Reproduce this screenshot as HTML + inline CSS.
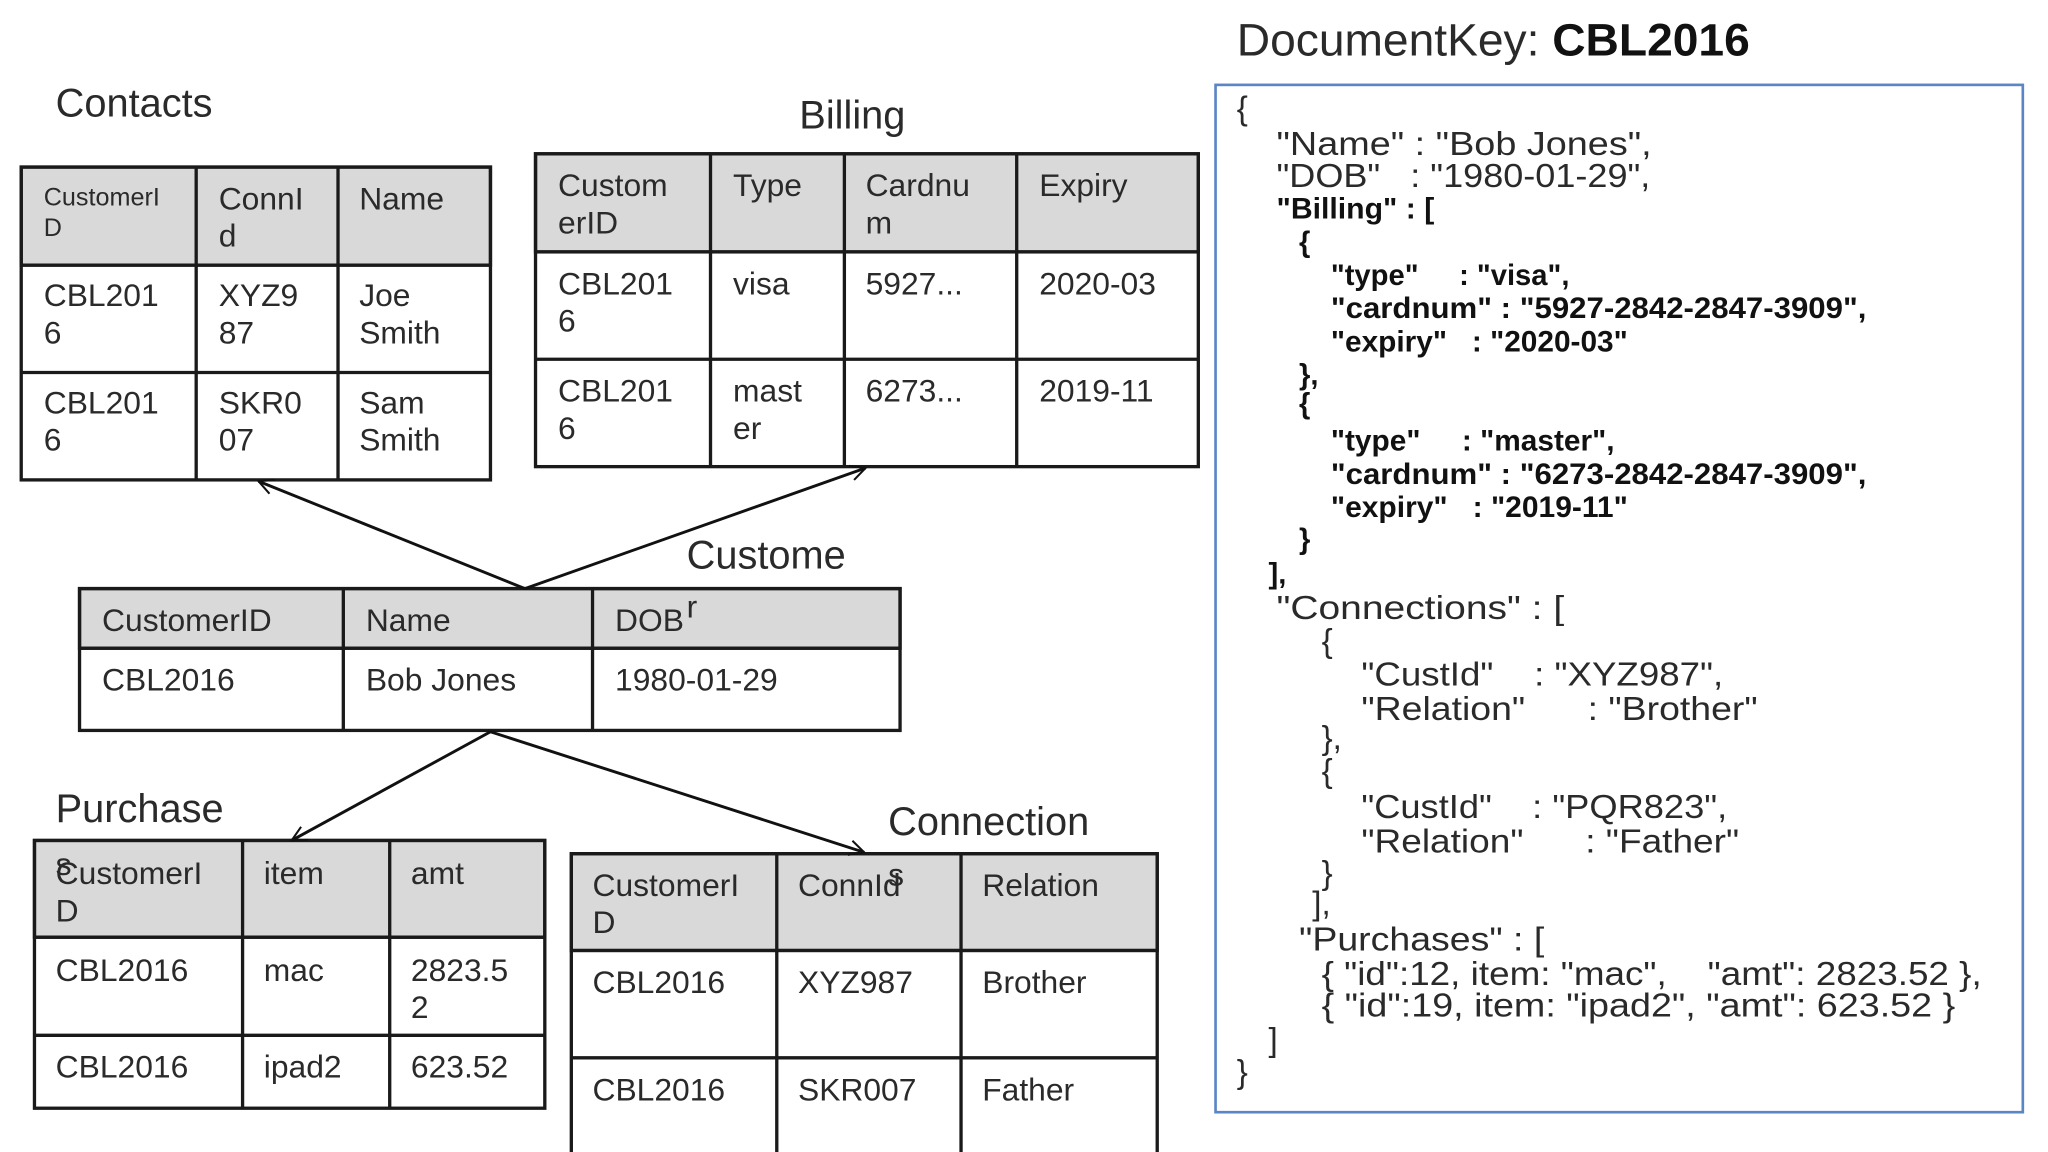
<!DOCTYPE html>
<html><head><meta charset="utf-8"><style>
html,body{margin:0;padding:0;background:#fff;width:2048px;height:1152px;overflow:hidden}
svg{display:block}
text{font-family:"Liberation Sans",sans-serif;fill:#2a2a2a;white-space:pre}
.t{font-size:24px}
.h{font-size:30px}
.s{font-size:19px}
.j{font-size:25px}
.b{font-size:22px;font-weight:bold;fill:#111}
</style></head><body>
<svg width="2048" height="1152" viewBox="0 0 1545 869" xmlns="http://www.w3.org/2000/svg" xml:space="preserve">
<defs>
<marker id="ah" viewBox="0 0 20 20" refX="18" refY="10" markerWidth="14" markerHeight="14" markerUnits="userSpaceOnUse" orient="auto">
<path d="M2,2 L18,10 L2,18" fill="none" stroke="#111" stroke-width="2.2"/>
</marker>
</defs>
<g stroke="#1a1a1a" stroke-width="2.5">
<rect x="16" y="126" width="354" height="74" fill="#d9d9d9"/>
<rect x="16" y="126" width="354" height="236" fill="none"/>
<line x1="16" y1="200" x2="370" y2="200"/><line x1="16" y1="281" x2="370" y2="281"/>
<line x1="148" y1="126" x2="148" y2="362"/><line x1="255" y1="126" x2="255" y2="362"/>
<rect x="404" y="116" width="500" height="74" fill="#d9d9d9"/>
<rect x="404" y="116" width="500" height="236" fill="none"/>
<line x1="404" y1="190" x2="904" y2="190"/><line x1="404" y1="271" x2="904" y2="271"/>
<line x1="536" y1="116" x2="536" y2="352"/><line x1="637" y1="116" x2="637" y2="352"/><line x1="767" y1="116" x2="767" y2="352"/>
<rect x="60" y="444" width="619" height="45" fill="#d9d9d9"/>
<rect x="60" y="444" width="619" height="107" fill="none"/>
<line x1="60" y1="489" x2="679" y2="489"/>
<line x1="259" y1="444" x2="259" y2="551"/><line x1="447" y1="444" x2="447" y2="551"/>
<rect x="26" y="634" width="385" height="73" fill="#d9d9d9"/>
<rect x="26" y="634" width="385" height="202" fill="none"/>
<line x1="26" y1="707" x2="411" y2="707"/><line x1="26" y1="781" x2="411" y2="781"/>
<line x1="183" y1="634" x2="183" y2="836"/><line x1="294" y1="634" x2="294" y2="836"/>
<rect x="431" y="644" width="442" height="73" fill="#d9d9d9"/>
<rect x="431" y="644" width="442" height="236" fill="none"/>
<line x1="431" y1="717" x2="873" y2="717"/><line x1="431" y1="798" x2="873" y2="798"/>
<line x1="586" y1="644" x2="586" y2="880"/><line x1="725" y1="644" x2="725" y2="880"/>
</g>
<g stroke="#111" stroke-width="2.2" fill="none">
<line x1="396" y1="444" x2="195" y2="363" marker-end="url(#ah)"/>
<line x1="396" y1="444" x2="653" y2="353" marker-end="url(#ah)"/>
<line x1="370" y1="552" x2="220" y2="634" marker-end="url(#ah)"/>
<line x1="370" y1="552" x2="652" y2="643" marker-end="url(#ah)"/>
</g>
<text class="h" x="42" y="88">Contacts</text>
<text class="h" x="603" y="97">Billing</text>
<text class="h" x="518" y="429">Custome</text>
<text class="t" x="518" y="466">r</text>
<text class="h" x="42" y="620">Purchase</text>
<text class="t" x="42" y="660">s</text>
<text class="h" x="670" y="630">Connection</text>
<text class="t" x="670" y="668">s</text>
<text class="s" x="33" y="155">CustomerI</text><text class="s" x="33" y="178">D</text>
<text class="t" x="165" y="158">ConnI</text><text class="t" x="165" y="186">d</text>
<text class="t" x="271" y="158">Name</text>
<text class="t" x="33" y="231">CBL201</text><text class="t" x="33" y="259">6</text>
<text class="t" x="165" y="231">XYZ9</text><text class="t" x="165" y="259">87</text>
<text class="t" x="271" y="231">Joe</text><text class="t" x="271" y="259">Smith</text>
<text class="t" x="33" y="312">CBL201</text><text class="t" x="33" y="340">6</text>
<text class="t" x="165" y="312">SKR0</text><text class="t" x="165" y="340">07</text>
<text class="t" x="271" y="312">Sam</text><text class="t" x="271" y="340">Smith</text>
<text class="t" x="421" y="148">Custom</text><text class="t" x="421" y="176">erID</text>
<text class="t" x="553" y="148">Type</text>
<text class="t" x="653" y="148">Cardnu</text><text class="t" x="653" y="176">m</text>
<text class="t" x="784" y="148">Expiry</text>
<text class="t" x="421" y="222">CBL201</text><text class="t" x="421" y="250">6</text>
<text class="t" x="553" y="222">visa</text>
<text class="t" x="653" y="222">5927...</text>
<text class="t" x="784" y="222">2020-03</text>
<text class="t" x="421" y="303">CBL201</text><text class="t" x="421" y="331">6</text>
<text class="t" x="553" y="303">mast</text><text class="t" x="553" y="331">er</text>
<text class="t" x="653" y="303">6273...</text>
<text class="t" x="784" y="303">2019-11</text>
<text class="t" x="77" y="476">CustomerID</text>
<text class="t" x="276" y="476">Name</text>
<text class="t" x="464" y="476">DOB</text>
<text class="t" x="77" y="521">CBL2016</text>
<text class="t" x="276" y="521">Bob Jones</text>
<text class="t" x="464" y="521">1980-01-29</text>
<text class="t" x="42" y="667">CustomerI</text><text class="t" x="42" y="695">D</text>
<text class="t" x="199" y="667">item</text>
<text class="t" x="310" y="667">amt</text>
<text class="t" x="42" y="740">CBL2016</text>
<text class="t" x="199" y="740">mac</text>
<text class="t" x="310" y="740">2823.5</text><text class="t" x="310" y="768">2</text>
<text class="t" x="42" y="813">CBL2016</text>
<text class="t" x="199" y="813">ipad2</text>
<text class="t" x="310" y="813">623.52</text>
<text class="t" x="447" y="676">CustomerI</text><text class="t" x="447" y="704">D</text>
<text class="t" x="602" y="676">ConnId</text>
<text class="t" x="741" y="676">Relation</text>
<text class="t" x="447" y="749">CBL2016</text>
<text class="t" x="602" y="749">XYZ987</text>
<text class="t" x="741" y="749">Brother</text>
<text class="t" x="447" y="830">CBL2016</text>
<text class="t" x="602" y="830">SKR007</text>
<text class="t" x="741" y="830">Father</text>
<text x="933" y="42" style="font-size:34px" textLength="387" lengthAdjust="spacingAndGlyphs">DocumentKey: <tspan style="font-weight:bold;fill:#111">CBL2016</tspan></text>
<rect x="917" y="64" width="609" height="775" fill="none" stroke="#5b86c5" stroke-width="2"/>
<text class="j" x="933" y="90">{</text>
<text class="j" x="963" y="117" textLength="283" lengthAdjust="spacingAndGlyphs">"Name" : "Bob Jones",</text>
<text class="j" x="963" y="141" textLength="282" lengthAdjust="spacingAndGlyphs">"DOB"   : "1980-01-29",</text>
<text class="b" x="963" y="165" textLength="119" lengthAdjust="spacingAndGlyphs">"Billing" : [</text>
<text class="b" x="980" y="190">{</text>
<text class="b" x="1004" y="215" textLength="180" lengthAdjust="spacingAndGlyphs">"type"     : "visa",</text>
<text class="b" x="1004" y="240" textLength="404" lengthAdjust="spacingAndGlyphs">"cardnum" : "5927-2842-2847-3909",</text>
<text class="b" x="1004" y="265" textLength="224" lengthAdjust="spacingAndGlyphs">"expiry"   : "2020-03"</text>
<text class="b" x="980" y="290">},</text>
<text class="b" x="980" y="312">{</text>
<text class="b" x="1004" y="340" textLength="214" lengthAdjust="spacingAndGlyphs">"type"     : "master",</text>
<text class="b" x="1004" y="365" textLength="404" lengthAdjust="spacingAndGlyphs">"cardnum" : "6273-2842-2847-3909",</text>
<text class="b" x="1004" y="390" textLength="224" lengthAdjust="spacingAndGlyphs">"expiry"   : "2019-11"</text>
<text class="b" x="980" y="414">}</text>
<text class="b" x="957" y="440">],</text>
<text class="j" x="963" y="467" textLength="217" lengthAdjust="spacingAndGlyphs">"Connections" : [</text>
<text class="j" x="997" y="492">{</text>
<text class="j" x="1027" y="517" textLength="273" lengthAdjust="spacingAndGlyphs">"CustId"    : "XYZ987",</text>
<text class="j" x="1027" y="543" textLength="299" lengthAdjust="spacingAndGlyphs">"Relation"      : "Brother"</text>
<text class="j" x="997" y="565">},</text>
<text class="j" x="997" y="590">{</text>
<text class="j" x="1027" y="617" textLength="276" lengthAdjust="spacingAndGlyphs">"CustId"    : "PQR823",</text>
<text class="j" x="1027" y="643" textLength="285" lengthAdjust="spacingAndGlyphs">"Relation"      : "Father"</text>
<text class="j" x="997" y="667">}</text>
<text class="j" x="990" y="690">],</text>
<text class="j" x="980" y="717" textLength="185" lengthAdjust="spacingAndGlyphs">"Purchases" : [</text>
<text class="j" x="997" y="743" textLength="498" lengthAdjust="spacingAndGlyphs">{ "id":12, item: "mac",    "amt": 2823.52 },</text>
<text class="j" x="997" y="767" textLength="478" lengthAdjust="spacingAndGlyphs">{ "id":19, item: "ipad2", "amt": 623.52 }</text>
<text class="j" x="957" y="793">]</text>
<text class="j" x="933" y="817">}</text>
</svg>
</body></html>
